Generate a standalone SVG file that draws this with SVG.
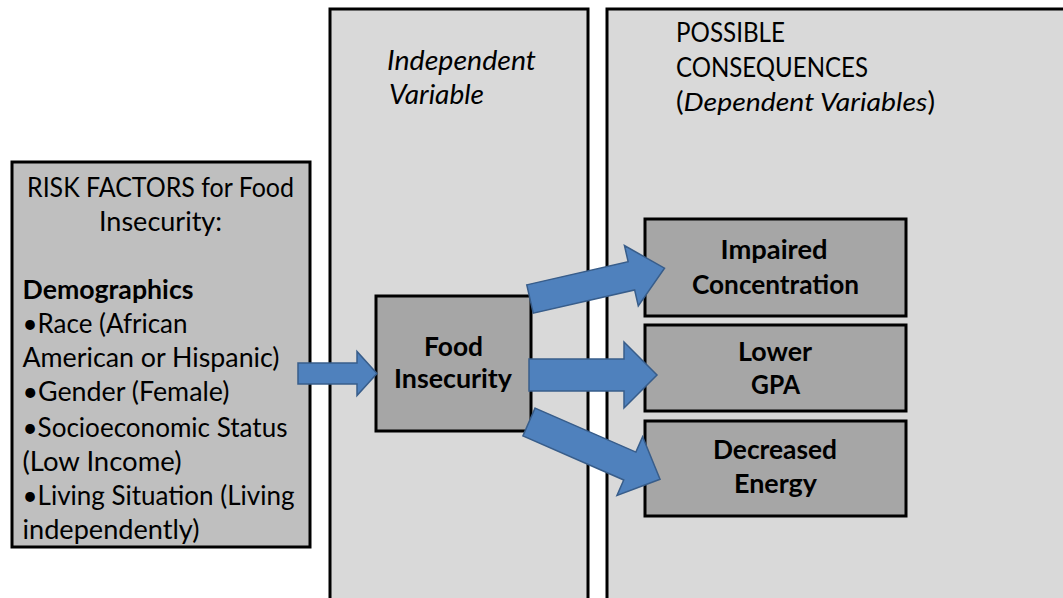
<svg xmlns="http://www.w3.org/2000/svg" width="1063" height="598" viewBox="0 0 1063 598">
<style>
.panel{fill:#D9D9D9;stroke:#000;stroke-width:3}
.risk{fill:#BFBFBF;stroke:#000;stroke-width:3}
.box{fill:#A6A6A6;stroke:#000;stroke-width:3}
.arrow{fill:#4F81BD;stroke:#385D8A;stroke-width:1.5;stroke-linejoin:miter}
text{font-family:Lato,"Liberation Sans",sans-serif;fill:#000}
.reg{font-size:26px}
.it{font-size:27px;font-style:italic}
.b{font-size:26px;font-weight:bold}
</style>
<rect width="1063" height="598" fill="#fff"/>
<g id="panel-independent">
<rect class="panel" x="330" y="9" width="258" height="620"/>
<text class="it" x="387" y="70" textLength="149" lengthAdjust="spacingAndGlyphs">Independent</text>
<text class="it" x="389" y="103.5" textLength="95" lengthAdjust="spacingAndGlyphs">Variable</text>
</g>
<g id="panel-consequences">
<rect class="panel" x="607" y="9" width="480" height="620"/>
<text class="reg" x="676" y="41.7" textLength="109" lengthAdjust="spacingAndGlyphs">POSSIBLE</text>
<text class="reg" x="676" y="76.7" textLength="192" lengthAdjust="spacingAndGlyphs">CONSEQUENCES</text>
<text class="reg" x="676" y="110.5" textLength="259" lengthAdjust="spacingAndGlyphs">(<tspan font-style="italic">Dependent Variables</tspan>)</text>
</g>
<g id="risk-factors">
<rect class="risk" x="12" y="162" width="298" height="385"/>
<text class="reg" x="27" y="197" textLength="267" lengthAdjust="spacingAndGlyphs">RISK FACTORS for Food</text>
<text class="reg" x="99" y="230.5" textLength="123" lengthAdjust="spacingAndGlyphs">Insecurity:</text>
<text class="reg" x="22.5" y="298.5" font-weight="bold" textLength="171" lengthAdjust="spacingAndGlyphs">Demographics</text>
<text class="reg" x="22.5" y="333" textLength="165" lengthAdjust="spacingAndGlyphs">•Race (African</text>
<text class="reg" x="22.5" y="367" textLength="257" lengthAdjust="spacingAndGlyphs">American or Hispanic)</text>
<text class="reg" x="22.5" y="401" textLength="207" lengthAdjust="spacingAndGlyphs">•Gender (Female)</text>
<text class="reg" x="22.5" y="436.5" textLength="265" lengthAdjust="spacingAndGlyphs">•Socioeconomic Status</text>
<text class="reg" x="22.5" y="471" textLength="159" lengthAdjust="spacingAndGlyphs">(Low Income)</text>
<text class="reg" x="22.5" y="505" textLength="272" lengthAdjust="spacingAndGlyphs">•Living Situation (Living</text>
<text class="reg" x="22.5" y="538.5" textLength="177" lengthAdjust="spacingAndGlyphs">independently)</text>
</g>
<g id="food-insecurity">
<rect class="box" x="376" y="296" width="155" height="135"/>
<text class="b" x="424" y="356" textLength="59" lengthAdjust="spacingAndGlyphs">Food</text>
<text class="b" x="394" y="388" textLength="118" lengthAdjust="spacingAndGlyphs">Insecurity</text>
</g>
<g id="impaired-concentration">
<rect class="box" x="645" y="219" width="261" height="97"/>
<text class="b" x="720.5" y="259" textLength="107" lengthAdjust="spacingAndGlyphs">Impaired</text>
<text class="b" x="692" y="294" textLength="167" lengthAdjust="spacingAndGlyphs">Concentration</text>
</g>
<g id="lower-gpa">
<rect class="box" x="645" y="325" width="261" height="86"/>
<text class="b" x="738" y="360.5" textLength="74" lengthAdjust="spacingAndGlyphs">Lower</text>
<text class="b" x="751" y="394" textLength="49" lengthAdjust="spacingAndGlyphs">GPA</text>
</g>
<g id="decreased-energy">
<rect class="box" x="645" y="421" width="261" height="95"/>
<text class="b" x="713" y="459" textLength="124" lengthAdjust="spacingAndGlyphs">Decreased</text>
<text class="b" x="734" y="493" textLength="83" lengthAdjust="spacingAndGlyphs">Energy</text>
</g>
<g id="connectors">
<path class="arrow" transform="translate(298,373.5)" d="M0,-10.5 H59 V-22 L79,0 L59,22 V10.5 H0 Z"/>
<path class="arrow" transform="translate(530,299) rotate(-12.9)" d="M0,-14.5 H104 V-31 L138,0 L104,31 V14.5 H0 Z"/>
<path class="arrow" transform="translate(529,375)" d="M0,-16 H95 V-33 L128,0 L95,33 V16 H0 Z"/>
<path class="arrow" transform="translate(529,422) rotate(23.6)" d="M0,-15.2 H110 V-32 L143,0 L110,32 V15.2 H0 Z"/>
</g>
</svg>
